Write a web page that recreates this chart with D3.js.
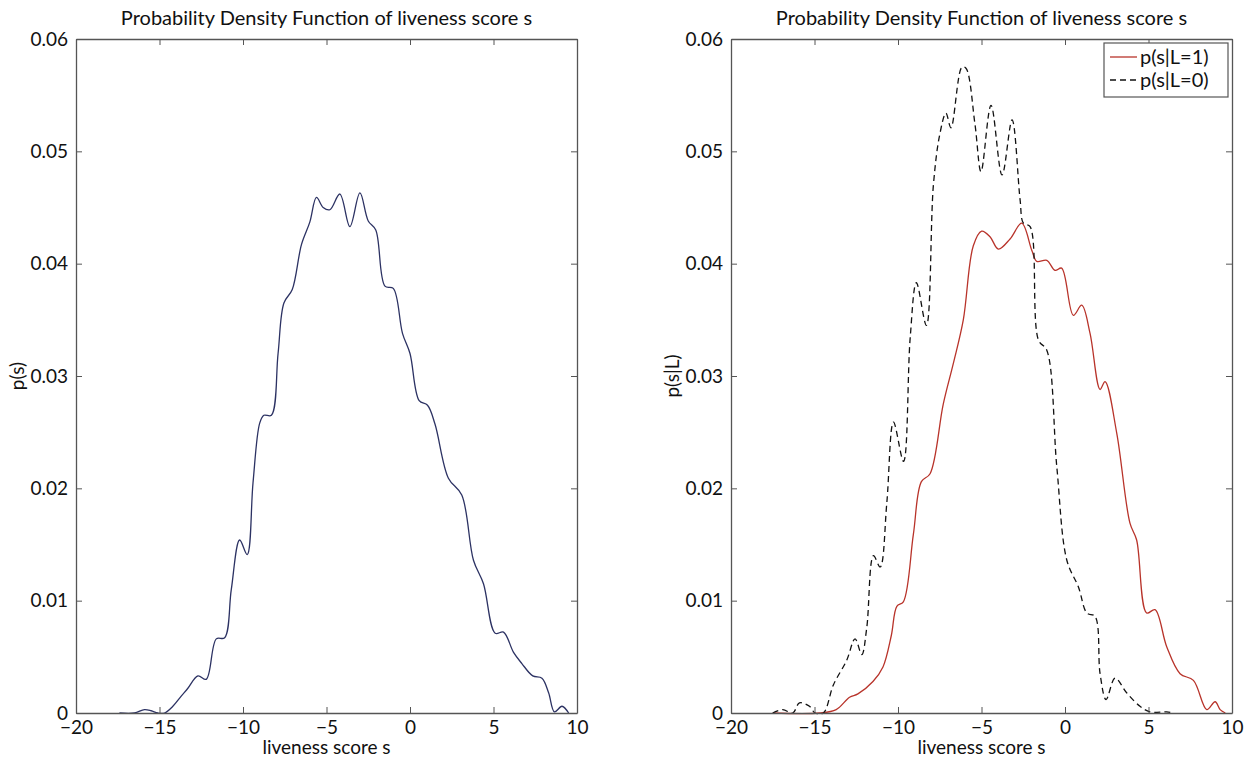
<!DOCTYPE html>
<html>
  <head>
    <title>PDF of liveness score</title>
    <script src="https://d3js.org/d3.v7.min.js"></script>
    <style>
      body { margin: 0; background: #fff; }
      text { font-family: Lato, "Open Sans", sans-serif; fill: #111; }
    </style>
  </head>
  <body>
    <svg width="1253" height="761"></svg>
    <script>
      // tick values (shared by both panels)
      const xTicks = [-20, -15, -10, -5, 0, 5, 10];
      const yTicks = [0, 0.01, 0.02, 0.03, 0.04, 0.05, 0.06];

      // left panel: p(s), all samples
      const allScore = [-17.4, -16.5, -15.9, -15.5, -15.1, -14.7, -14.2, -13.7, -13.3, -12.7, -12.2, -11.6, -11.1, -10.7, -10.2, -9.75, -9.4, -9.0, -8.75, -8.3, -7.9, -7.55, -7.05, -6.5, -6.0, -5.6, -5.2, -4.8, -4.2, -3.6, -3.0, -2.5, -2.05, -1.5, -1.0, -0.45, 0.0, 0.55, 1.05, 1.5, 2.3, 3.1, 3.8, 4.4, 5.1, 5.6, 6.2, 6.7, 7.35, 7.9, 8.3, 8.65, 9.1, 9.5];
      const allDensity = [0, 0, 0.0003, 0.0002, 0, 0, 0.0006, 0.0015, 0.0022, 0.0033, 0.0030, 0.0066, 0.0067, 0.0110, 0.0154, 0.0141, 0.0205, 0.0258, 0.0265, 0.0265, 0.0320, 0.0365, 0.0377, 0.0417, 0.0437, 0.0459, 0.0450, 0.0448, 0.0462, 0.0433, 0.0463, 0.0438, 0.0430, 0.0380, 0.0378, 0.0338, 0.0320, 0.0278, 0.0274, 0.0257, 0.0209, 0.0194, 0.0136, 0.0115, 0.0071, 0.0072, 0.0054, 0.0044, 0.0033, 0.0031, 0.0018, 0.0001, 0.0006, 0];

      // right panel: p(s|L=1), live samples
      const liveScore = [-17.5, -14.7, -13.7, -12.9, -12.4, -11.5, -10.9, -10.4, -10.07, -9.68, -9.08, -8.6, -8.08, -7.29, -6.69, -6.09, -5.49, -4.99, -4.49, -3.99, -3.29, -2.59, -1.99, -1.69, -1.09, -0.6, -0.2, 0.5, 1.0, 1.5, 2.1, 2.4, 3.1, 3.89, 4.29, 4.89, 5.39, 6.09, 6.89, 7.69, 8.49, 8.99, 9.29, 9.6];
      const liveDensity = [0, 0, 0.0003, 0.0014, 0.0017, 0.0028, 0.0041, 0.0069, 0.0095, 0.0099, 0.0159, 0.0206, 0.0213, 0.0275, 0.0311, 0.0350, 0.0416, 0.0429, 0.0424, 0.0413, 0.0422, 0.0436, 0.0412, 0.0402, 0.0403, 0.0394, 0.0396, 0.0354, 0.0363, 0.0338, 0.0288, 0.0295, 0.0249, 0.0169, 0.0154, 0.0089, 0.0092, 0.0059, 0.0035, 0.0029, 0.0003, 0.0010, 0.0003, 0];

      // right panel: p(s|L=0), spoof samples
      const spoofScore = [-17.5, -16.9, -16.3, -15.9, -15.3, -14.97, -14.47, -13.87, -13.07, -12.57, -12.17, -11.87, -11.47, -11.07, -10.67, -10.27, -9.67, -9.27, -8.9, -8.3, -7.88, -7.5, -7.13, -6.83, -6.17, -5.93, -5.39, -5.03, -4.43, -3.77, -3.17, -2.69, -2.49, -2.09, -1.59, -1.09, -0.49, 0.11, 0.81, 1.31, 1.8, 2.1, 2.46, 3.0, 3.69, 4.49, 5.09, 6.09, 6.5];
      const spoofDensity = [0, 0.0003, 0, 0.0009, 0.0006, 0, 0, 0.0025, 0.0047, 0.0066, 0.0052, 0.0076, 0.0140, 0.0130, 0.0187, 0.0259, 0.0224, 0.0334, 0.0383, 0.0345, 0.0470, 0.0515, 0.0534, 0.0521, 0.0575, 0.0574, 0.0524, 0.0482, 0.0541, 0.0479, 0.0528, 0.0457, 0.0436, 0.0433, 0.0332, 0.0323, 0.0219, 0.0136, 0.0112, 0.0089, 0.0086, 0.0035, 0.0012, 0.0031, 0.0018, 0.0006, 0.0001, 0.0001, 0];

      const titleText = "Probability Density Function of liveness score s";
      const xLabel = "liveness score s";

      const svg = d3.select("svg");
      const plotTop = 39, plotBottom = 713;
      const axisColor = "#555";

      const zip = (xs, ys) => xs.map((x, i) => [x, ys[i]]);

      function panel(x0, x1, yLabel, series) {
        const xScale = d3.scaleLinear().domain([-20, 10]).range([x0, x1]);
        const yScale = d3.scaleLinear().domain([0, 0.06]).range([plotBottom, plotTop]);
        const g = svg.append("g");

        const line = d3.line()
          .x(d => xScale(d[0]))
          .y(d => yScale(d[1]))
          .curve(d3.curveCatmullRom.alpha(0.5));

        series.forEach(s => {
          g.append("path")
            .attr("d", line(s.data))
            .attr("fill", "none")
            .attr("stroke", s.color)
            .attr("stroke-width", 1.3)
            .attr("stroke-dasharray", s.dash || null);
        });

        // box-style axes with inward ticks
        const fmtY = d => d === 0 ? "0" : d3.format(".2f")(d);
        const fmtX = d => d < 0 ? "\u2212" + Math.abs(d) : String(d);

        const bAxis = g.append("g").attr("transform", `translate(0,${plotBottom})`)
          .call(d3.axisBottom(xScale).tickValues(xTicks).tickSizeInner(-6).tickSizeOuter(0).tickPadding(2).tickFormat(fmtX));
        const tAxis = g.append("g").attr("transform", `translate(0,${plotTop})`)
          .call(d3.axisTop(xScale).tickValues(xTicks).tickSizeInner(-6).tickSizeOuter(0).tickFormat(""));
        const lAxis = g.append("g").attr("transform", `translate(${x0},0)`)
          .call(d3.axisLeft(yScale).tickValues(yTicks).tickSizeInner(-6).tickSizeOuter(0).tickPadding(8).tickFormat(fmtY));
        const rAxis = g.append("g").attr("transform", `translate(${x1},0)`)
          .call(d3.axisRight(yScale).tickValues(yTicks).tickSizeInner(-6).tickSizeOuter(0).tickFormat(""));

        [bAxis, tAxis, lAxis, rAxis].forEach(a => {
          a.select(".domain").attr("stroke", axisColor).attr("stroke-width", 1.3);
          a.selectAll(".tick line").attr("stroke", axisColor);
          a.selectAll(".tick text").style("font-size", "19px").attr("fill", "#111")
            .style("font-family", "Lato, 'Open Sans', sans-serif");
        });
        bAxis.selectAll(".tick text").attr("y", 8).attr("dy", "0.71em");

        g.append("text")
          .attr("x", (x0 + x1) / 2).attr("y", 25)
          .attr("text-anchor", "middle").style("font-size", "20px")
          .text(titleText);
        g.append("text")
          .attr("x", (x0 + x1) / 2).attr("y", 754)
          .attr("text-anchor", "middle").style("font-size", "19px")
          .text(xLabel);
        g.append("text")
          .attr("transform", `translate(${x0 - 52},${(plotTop + plotBottom) / 2}) rotate(-90)`)
          .attr("text-anchor", "middle").style("font-size", "19px")
          .text(yLabel);

        return { xScale, yScale, g };
      }

      panel(76, 577, "p(s)", [
        { data: zip(allScore, allDensity), color: "#2c3263" }
      ]);

      const right = panel(731, 1232, "p(s|L)", [
        { data: zip(liveScore, liveDensity), color: "#b8332a" },
        { data: zip(spoofScore, spoofDensity), color: "#111", dash: "6,4" }
      ]);

      // legend
      const legendItems = [
        { label: "p(s|L=1)", color: "#b8332a", dash: null },
        { label: "p(s|L=0)", color: "#111", dash: "6,4" }
      ];
      const lg = right.g.append("g").attr("transform", "translate(1104,43)");
      lg.append("rect").attr("width", 124).attr("height", 54)
        .attr("fill", "#fff").attr("stroke", axisColor).attr("stroke-width", 1.2);
      legendItems.forEach((d, i) => {
        const y = 14 + i * 23;
        lg.append("line").attr("x1", 6).attr("x2", 33).attr("y1", y).attr("y2", y)
          .attr("stroke", d.color).attr("stroke-width", 1.3).attr("stroke-dasharray", d.dash);
        lg.append("text").attr("x", 36).attr("y", y).attr("dy", "0.35em")
          .style("font-size", "20px").text(d.label);
      });
    </script>
  </body>
</html>
